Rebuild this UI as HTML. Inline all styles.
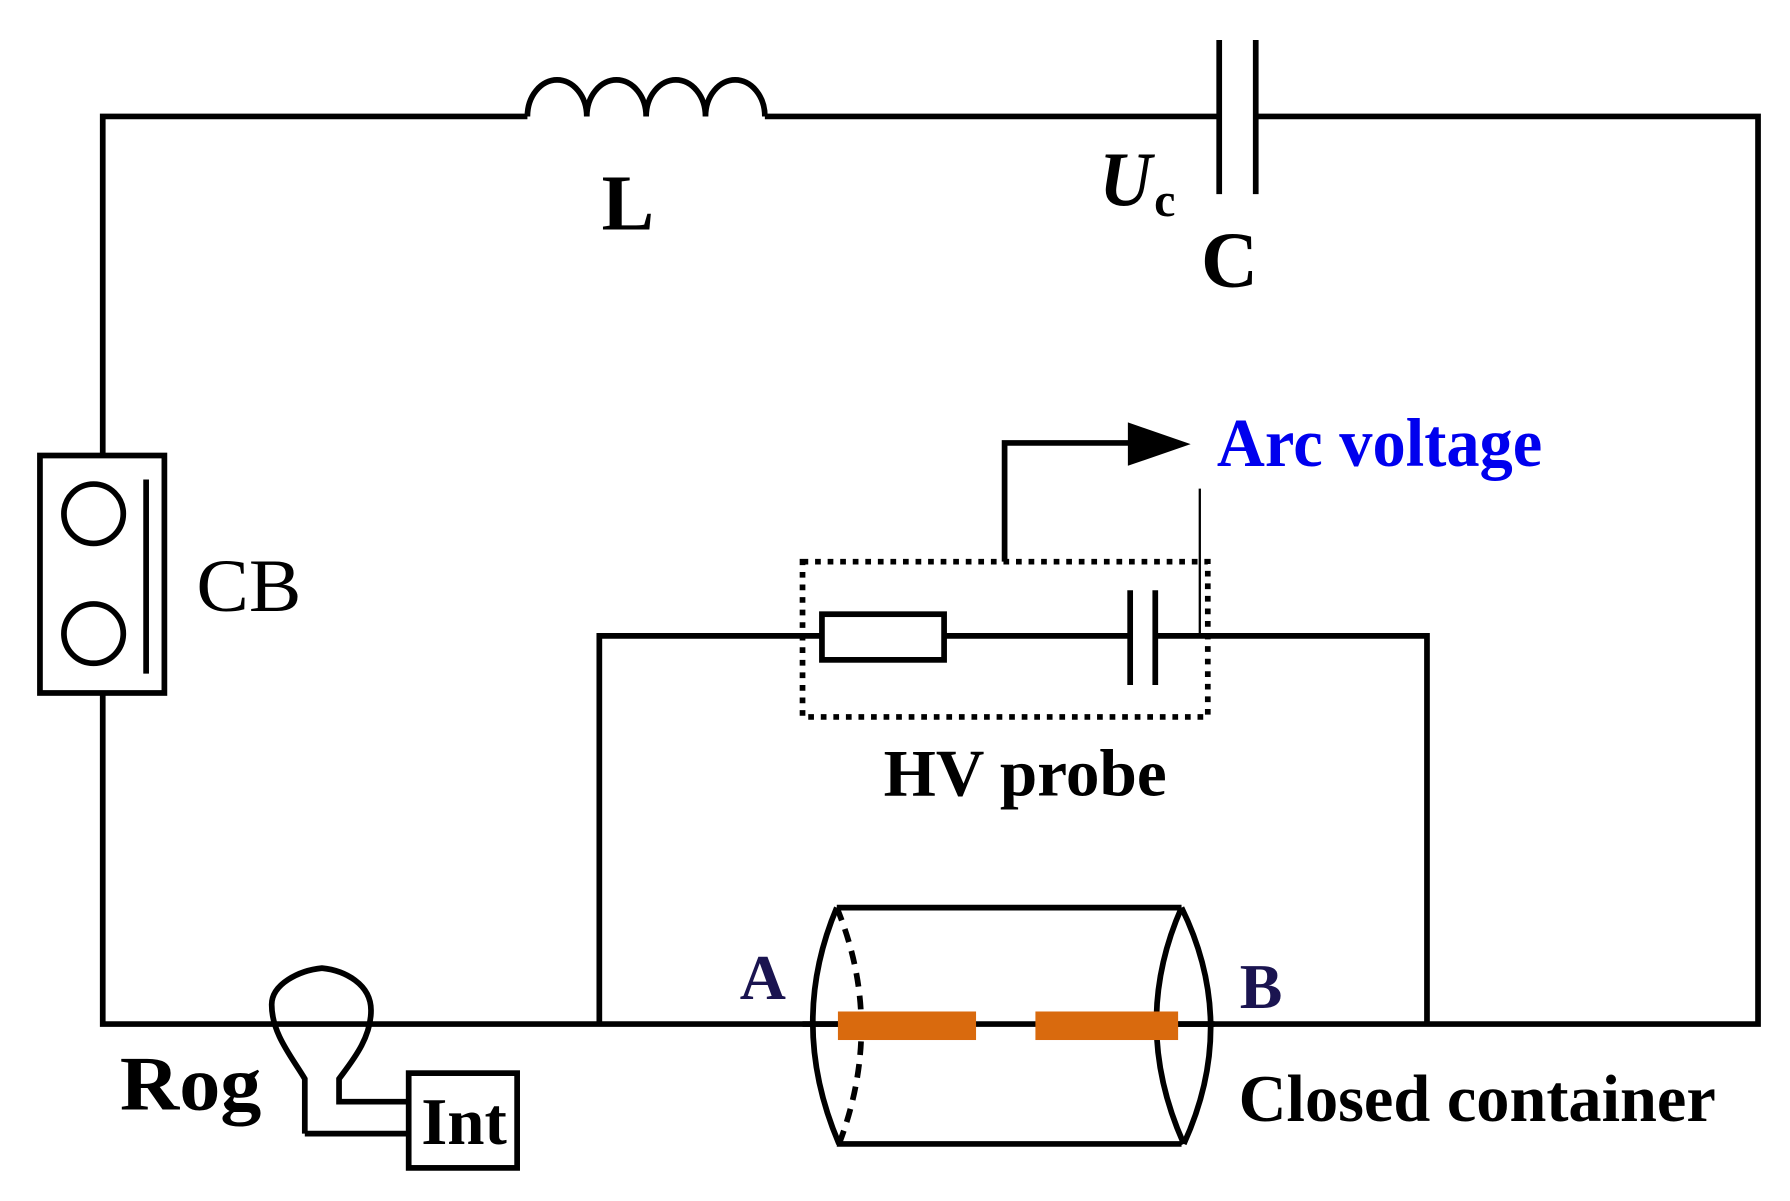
<!DOCTYPE html>
<html><head><meta charset="utf-8"><style>
html,body{margin:0;padding:0;background:#fff;}
svg{display:block;}
text{font-family:"Liberation Serif",serif;font-weight:bold;}
</style></head><body>
<svg width="1790" height="1201" viewBox="0 0 1568 1052" preserveAspectRatio="none" xmlns="http://www.w3.org/2000/svg">
<g fill="none" stroke="#000" stroke-width="5" stroke-linejoin="miter">
<path d="M90 398 V102 H462"/>
<path d="M462 102 a26 32 0 0 1 52 0 a26 32 0 0 1 52 0 a26 32 0 0 1 52 0 a26 32 0 0 1 52 0"/>
<path d="M670 102 H1068"/>
<path d="M1068 35 V170 M1100 35 V170"/>
<path d="M1100 102 H1540 V897 H90 V607"/>
<rect x="35" y="399" width="109" height="208"/>
<circle cx="82" cy="450" r="26"/>
<circle cx="82" cy="555" r="26"/>
<path d="M128 420 V590"/>
<path d="M525 897 V557 H720"/>
<rect x="720" y="538" width="107" height="40"/>
<path d="M827 557 H990 M1012 557 H1250 V897"/>
<path d="M990 517 V600 M1012 517 V600"/>
<rect x="703" y="492" width="355" height="136" stroke-dasharray="5 6"/>
<path d="M880 492 V388 H990"/>
<path d="M267 993 V945 C255 925 238 905 238 880 C238 862 262 850 282 848 C302 850 325 862 325 885 C325 910 308 930 297 945 V965 H358"/>
<path d="M267 993 H358"/>
<rect x="358" y="940" width="95" height="83"/>
<path d="M733 795 H1035 M733 1002 H1035"/>
<path d="M733 795 Q690 897 735 1002"/>
<path d="M1035 795 Q1085 897 1037 1002"/>
<path d="M1035 795 Q990 897 1037 1002"/>
<path d="M733 795 Q775 897 735 1002" stroke-dasharray="12 8"/>
<path d="M703 897 H734 M1032 897 H1064"/>
</g>
<line x1="1051" y1="428" x2="1051" y2="557" stroke="#000" stroke-width="2"/>
<polygon points="988,370 1043,389 988,408" fill="#000"/>
<rect x="734" y="886" width="121" height="25" fill="#d96a0e"/>
<rect x="907" y="886" width="125" height="25" fill="#d96a0e"/>
<text x="527" y="201" font-size="70" textLength="46" lengthAdjust="spacingAndGlyphs">L</text>
<text x="963" y="180" font-size="68" font-style="italic" textLength="46" lengthAdjust="spacingAndGlyphs">U</text>
<text x="1011" y="189" font-size="42">c</text>
<text x="1052" y="251" font-size="70" textLength="50" lengthAdjust="spacingAndGlyphs">C</text>
<text x="172" y="535" font-size="66" style="font-weight:normal" textLength="92" lengthAdjust="spacingAndGlyphs">CB</text>
<text x="1066" y="408" font-size="60" fill="#0000ee" textLength="285" lengthAdjust="spacingAndGlyphs">Arc voltage</text>
<text x="774" y="697" font-size="58" textLength="248" lengthAdjust="spacingAndGlyphs">HV probe</text>
<text x="648" y="875" font-size="56" fill="#1a1450">A</text>
<text x="1086" y="883" font-size="56" fill="#1a1450">B</text>
<text x="1085" y="982" font-size="58" textLength="418" lengthAdjust="spacingAndGlyphs">Closed container</text>
<text x="105" y="972" font-size="68" textLength="124" lengthAdjust="spacingAndGlyphs">Rog</text>
<text x="369" y="1002" font-size="58" textLength="75" lengthAdjust="spacingAndGlyphs">Int</text>
</svg>
</body></html>
